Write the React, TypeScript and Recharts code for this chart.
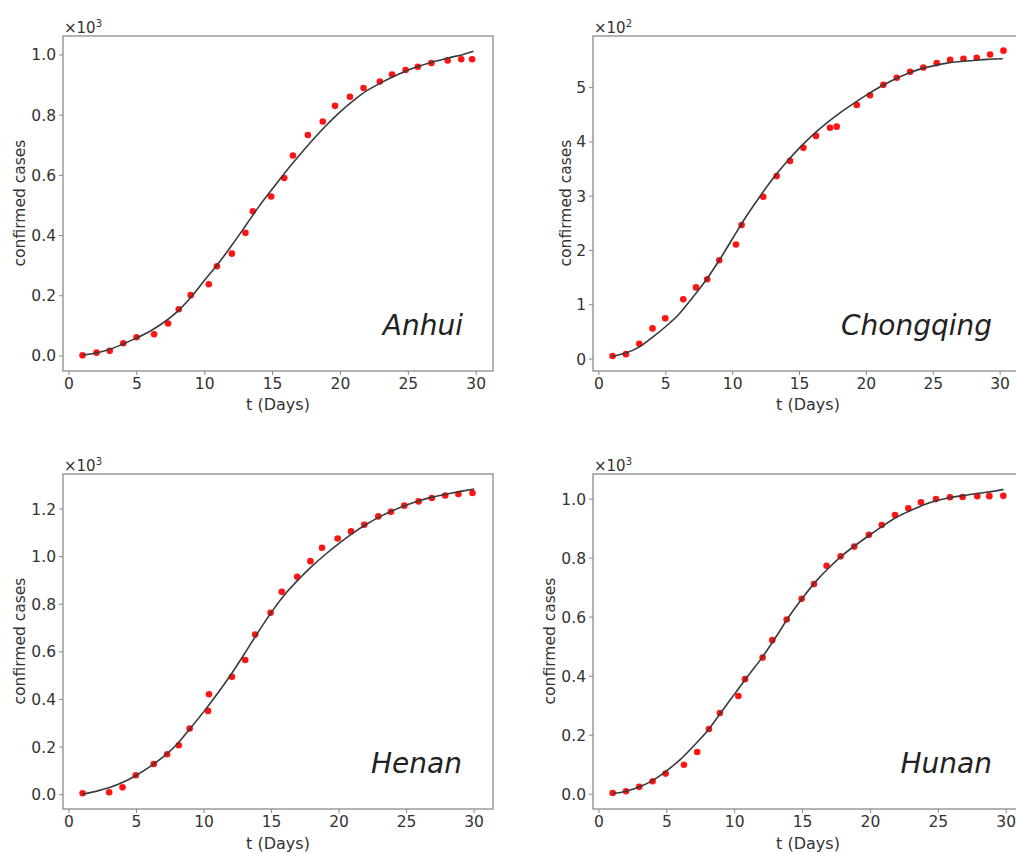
import React from 'react';
import { ScatterChart, Scatter, XAxis, YAxis, ReferenceArea } from 'recharts';

const FONT = '"DejaVu Sans", Verdana, sans-serif';

// ---------- Anhui (cases) ----------
const anhuiDays = [1.0, 2.03, 3.0, 4.0, 4.98, 6.27, 7.3, 8.09, 8.97, 10.3, 10.9, 12.0, 13.0, 13.55, 14.9, 15.86, 16.5, 17.6, 18.7, 19.6, 20.7, 21.7, 22.9, 23.8, 24.8, 25.7, 26.7, 27.9, 28.9, 29.7];
const anhuiCases = [2, 11, 17, 42, 62, 72, 108, 155, 202, 238, 298, 340, 409, 481, 530, 591, 666, 734, 779, 831, 861, 890, 912, 935, 950, 961, 973, 982, 986, 986];
const anhuiFitDays = [1, 2, 3, 4, 5, 6, 7, 8, 9, 10, 11, 12, 13, 14, 15, 16, 17, 18, 19, 20, 21, 22, 23, 24, 25, 26, 27, 28, 29, 29.8];
const anhuiFitCases = [3, 10, 22, 40, 60, 83, 112, 148, 196, 252, 307, 368, 432, 497, 556, 614, 668, 720, 768, 812, 850, 883, 908, 930, 950, 966, 979, 991, 1001, 1012];

// ---------- Chongqing (cases) ----------
const chongqingDays = [1.02, 2.02, 3.02, 4.01, 4.96, 6.31, 7.26, 8.1, 9.0, 10.25, 10.67, 12.29, 13.29, 14.29, 15.29, 16.23, 17.28, 17.78, 19.28, 20.27, 21.27, 22.27, 23.27, 24.26, 25.26, 26.26, 27.26, 28.25, 29.25, 30.25];
const chongqingCases = [5.5, 9, 28, 56.5, 75, 110, 132, 147, 182, 211, 247, 299, 337, 365, 389, 411, 426, 428, 468, 486, 505, 518, 529, 537, 545, 551, 553, 555, 561, 568];
const chongqingFitDays = [1, 2, 3, 4, 5, 6, 7, 8, 9, 10, 11, 12, 13, 14, 15, 16, 17, 18, 19, 20, 21, 22, 23, 24, 25, 26, 27, 28, 29, 30.2];
const chongqingFitCases = [5, 11, 22, 40, 60, 83, 113, 145, 182, 222, 262, 298, 332, 362, 389, 413, 434, 453, 470, 486, 501, 514, 525, 534, 540, 545, 548, 550, 552, 553];

// ---------- Henan (cases) ----------
const henanDays = [1.01, 2.98, 3.97, 4.95, 6.28, 7.27, 8.13, 8.94, 10.3, 10.37, 12.07, 13.05, 13.79, 14.93, 15.76, 16.9, 17.88, 18.74, 19.9, 20.89, 21.87, 22.91, 23.84, 24.83, 25.89, 26.87, 27.86, 28.84, 29.88];
const henanCases = [6, 10, 31, 82, 129, 170, 208, 278, 352, 422, 495, 566, 673, 764, 852, 915, 981, 1037, 1076, 1106, 1134, 1169, 1188, 1214, 1232, 1246, 1257, 1263, 1267];
const henanFitDays = [1, 2, 3, 4, 5, 6, 7, 8, 9, 10, 11, 12, 13, 14, 15, 16, 17, 18, 19, 20, 21, 22, 23, 24, 25, 26, 27, 28, 29, 30];
const henanFitCases = [2, 14, 30, 52, 82, 118, 160, 212, 280, 350, 425, 505, 592, 682, 767, 842, 904, 960, 1010, 1056, 1098, 1135, 1167, 1194, 1217, 1236, 1251, 1263, 1274, 1284];

// ---------- Hunan (cases) ----------
const hunanDays = [1.01, 1.99, 2.97, 3.95, 4.91, 6.26, 7.24, 8.1, 8.91, 10.27, 10.76, 12.06, 12.77, 13.83, 14.93, 15.84, 16.77, 17.8, 18.81, 19.89, 20.83, 21.81, 22.79, 23.72, 24.83, 25.86, 26.79, 27.87, 28.76, 29.79];
const hunanCases = [4, 10, 25, 44, 70, 100, 143, 221, 275, 333, 390, 463, 522, 592, 662, 712, 774, 806, 839, 879, 912, 946, 969, 989, 1000, 1006, 1007, 1010, 1010, 1011];
const hunanFitDays = [1, 2, 3, 4, 5, 6, 7, 8, 9, 10, 11, 12, 13, 14, 15, 16, 17, 18, 19, 20, 21, 22, 23, 24, 25, 26, 27, 28, 29, 29.8];
const hunanFitCases = [2, 10, 25, 48, 80, 118, 165, 215, 278, 340, 402, 462, 530, 602, 665, 722, 770, 812, 847, 880, 912, 940, 962, 982, 996, 1006, 1013, 1020, 1026, 1033];

// ---------- ticks ----------
const dayTicks = [0, 5, 10, 15, 20, 25, 30];
const thousandTicks = [0, 200, 400, 600, 800, 1000];
const henanTicks = [0, 200, 400, 600, 800, 1000, 1200];
const hundredTicks = [0, 100, 200, 300, 400, 500];

const zip = (xs: number[], ys: number[]) => xs.map((x, i) => ({ x, y: ys[i] }));

const fmtThousand = (v: number) => (v / 1000).toFixed(1);
const fmtHundred = (v: number) => String(Math.round(v / 100));

const RedDot = (p: any) => <circle cx={p.cx} cy={p.cy} r={3.3} fill="#ff1414" />;
const NoShape = () => <g />;

const tickStyle = { fill: '#333', fontSize: 15.5, fontFamily: FONT };

type PanelProps = {
  left: number;
  top: number;
  points: { x: number; y: number }[];
  fit: { x: number; y: number }[];
  xDomain: [number, number];
  yDomain: [number, number];
  yTicks: number[];
  yFmt: (v: number) => string;
};

function Panel({ left, top, points, fit, xDomain, yDomain, yTicks, yFmt }: PanelProps) {
  return (
    <div style={{ position: 'absolute', left, top }}>
      <ScatterChart width={520} height={430} margin={{ top: 36, right: 27, bottom: 29, left: 18 }}>
        <XAxis
          type="number"
          dataKey="x"
          domain={xDomain}
          ticks={dayTicks}
          interval={0}
          allowDataOverflow
          axisLine={false}
          tickLine={{ stroke: '#888' }}
          tickSize={4}
          tickMargin={3}
          height={30}
          tick={tickStyle}
        />
        <YAxis
          type="number"
          dataKey="y"
          domain={yDomain}
          ticks={yTicks}
          interval={0}
          allowDataOverflow
          tickFormatter={yFmt}
          axisLine={false}
          tickLine={{ stroke: '#888' }}
          tickSize={4}
          tickMargin={3}
          width={45}
          tick={tickStyle}
        />
        <ReferenceArea
          x1={xDomain[0]}
          x2={xDomain[1]}
          y1={yDomain[0]}
          y2={yDomain[1]}
          fill="none"
          stroke="#9a9a9a"
          strokeWidth={1.5}
          ifOverflow="visible"
        />
        <Scatter data={points} shape={RedDot} isAnimationActive={false} />
        <Scatter
          data={fit}
          shape={NoShape}
          line={{ stroke: '#3a3a3a', strokeWidth: 1.6 }}
          lineJointType="monotoneX"
          isAnimationActive={false}
        />
      </ScatterChart>
    </div>
  );
}

function Mult({ x, y, exp }: { x: number; y: number; exp: string }) {
  return (
    <text x={x} y={y} fontFamily={FONT} fontSize={15} fill="#333">
      ×10
      <tspan dy={-6} fontSize={10}>
        {exp}
      </tspan>
    </text>
  );
}

function YLabel({ x, cy }: { x: number; cy: number }) {
  return (
    <text
      x={x}
      y={cy}
      transform={`rotate(-90 ${x} ${cy})`}
      textAnchor="middle"
      fontFamily={FONT}
      fontSize={15.5}
      fill="#333"
    >
      confirmed cases
    </text>
  );
}

function XLabel({ cx, y }: { cx: number; y: number }) {
  return (
    <text x={cx} y={y} textAnchor="middle" fontFamily={FONT} fontSize={16} fill="#333">
      t (Days)
    </text>
  );
}

function Name({ x, y, text }: { x: number; y: number; text: string }) {
  return (
    <text x={x} y={y} textAnchor="end" fontFamily={FONT} fontStyle="italic" fontSize={28} fill="#222">
      {text}
    </text>
  );
}

export default function App() {
  return (
    <div
      style={{
        position: 'absolute',
        left: 0,
        top: 0,
        width: 1016,
        height: 853,
        overflow: 'hidden',
        background: '#fff',
      }}
    >
      <Panel
        left={0}
        top={0}
        points={zip(anhuiDays, anhuiCases)}
        fit={zip(anhuiFitDays, anhuiFitCases)}
        xDomain={[-0.44, 31.24]}
        yDomain={[-50, 1063]}
        yTicks={thousandTicks}
        yFmt={fmtThousand}
      />
      <Panel
        left={530}
        top={0}
        points={zip(chongqingDays, chongqingCases)}
        fit={zip(chongqingFitDays, chongqingFitCases)}
        xDomain={[-0.44, 31.71]}
        yDomain={[-22, 595]}
        yTicks={hundredTicks}
        yFmt={fmtHundred}
      />
      <Panel
        left={0}
        top={438}
        points={zip(henanDays, henanCases)}
        fit={zip(henanFitDays, henanFitCases)}
        xDomain={[-0.44, 31.4]}
        yDomain={[-60, 1347]}
        yTicks={henanTicks}
        yFmt={fmtThousand}
      />
      <Panel
        left={530}
        top={438}
        points={zip(hunanDays, hunanCases)}
        fit={zip(hunanFitDays, hunanFitCases)}
        xDomain={[-0.44, 31.24]}
        yDomain={[-50, 1085]}
        yTicks={thousandTicks}
        yFmt={fmtThousand}
      />
      <svg
        width={1016}
        height={853}
        style={{ position: 'absolute', left: 0, top: 0, pointerEvents: 'none' }}
      >
        <Mult x={64} y={33} exp="3" />
        <Mult x={594} y={33} exp="2" />
        <Mult x={64} y={471} exp="3" />
        <Mult x={594} y={471} exp="3" />
        <YLabel x={25} cy={203} />
        <YLabel x={571} cy={203} />
        <YLabel x={25} cy={641} />
        <YLabel x={555} cy={641} />
        <XLabel cx={278} y={410} />
        <XLabel cx={808} y={410} />
        <XLabel cx={278} y={849} />
        <XLabel cx={808} y={849} />
        <Name x={463} y={335} text="Anhui" />
        <Name x={992} y={335} text="Chongqing" />
        <Name x={462} y={773} text="Henan" />
        <Name x={992} y={773} text="Hunan" />
      </svg>
    </div>
  );
}
